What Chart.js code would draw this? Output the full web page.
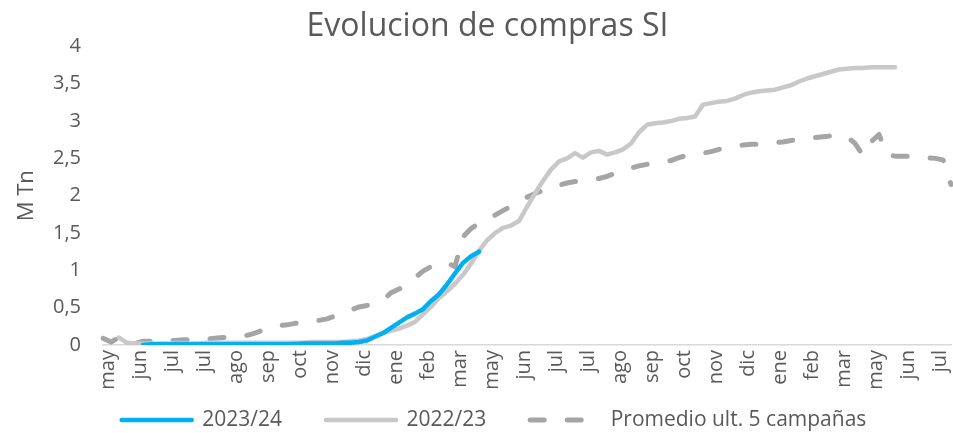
<!DOCTYPE html>
<html>
<head>
<meta charset="utf-8">
<script src="https://cdn.jsdelivr.net/npm/chart.js@4"></script>
<style>
html,body{margin:0;padding:0;background:#fff;overflow:hidden;}
#wrap{position:relative;width:953px;height:433px;}
</style>
</head>
<body>
<div id="wrap"><canvas id="c" width="953" height="433"></canvas></div>
<script>
// Tick labels shown on the x axis (one every 4 points)
const monthTicks = ['may','jun','jul','jul','ago','sep','oct','nov','dic','ene','feb','mar',
  'may','jun','jul','jul','ago','sep','oct','nov','dic','ene','feb','mar','may','jun','jul'];
const POINTS_PER_TICK = 4;
const N_POINTS = 107;

// Series values (M Tn)
const serie2324 = [null,null,null,null,null,0.00,0.01,0.01,0.01,0.01,
  0.01,0.01,0.01,0.01,0.01,0.01,0.01,0.01,0.01,0.01,
  0.01,0.01,0.01,0.01,0.015,0.02,0.02,0.02,0.02,0.02,
  0.03,0.03,0.04,0.06,0.11,0.16,0.23,0.30,0.37,0.42,
  0.48,0.59,0.68,0.81,0.96,1.10,1.19,1.25];

const serie2223 = [null,null,0.10,0.03,0.02,0.02,0.02,0.02,0.02,0.02,
  0.02,0.02,0.02,0.03,0.03,0.03,0.03,0.03,0.03,0.03,
  0.03,0.03,0.03,0.03,0.03,0.03,0.04,0.04,0.04,0.04,
  0.04,0.05,0.06,0.08,0.12,0.16,0.19,0.22,0.26,0.31,
  0.41,0.51,0.63,0.72,0.82,0.94,1.09,1.26,1.40,1.50,
  1.57,1.60,1.66,1.85,2.03,2.20,2.35,2.46,2.50,2.57,
  2.51,2.58,2.60,2.55,2.58,2.62,2.70,2.85,2.95,2.97,
  2.98,3.00,3.03,3.04,3.06,3.22,3.24,3.26,3.27,3.30,
  3.35,3.38,3.40,3.41,3.42,3.45,3.48,3.53,3.57,3.60,
  3.63,3.66,3.69,3.70,3.71,3.71,3.72,3.72,3.72,3.72];

const promedio5 = [0.09,0.04,0.10,0.03,0.02,0.05,0.05,0.05,0.06,0.06,
  0.07,0.07,0.08,0.08,0.09,0.10,0.11,0.11,0.13,0.16,
  0.20,0.24,0.26,0.27,0.29,0.30,0.31,0.33,0.35,0.39,
  0.43,0.47,0.51,0.53,0.56,0.60,0.70,0.75,0.80,0.90,
  0.99,1.05,1.10,1.10,1.05,1.45,1.56,1.63,1.69,1.74,
  1.80,1.86,1.92,1.98,2.03,2.07,2.11,2.14,2.17,2.19,
  2.21,2.22,2.23,2.26,2.30,2.34,2.37,2.40,2.42,2.43,
  2.45,2.47,2.51,2.54,2.56,2.57,2.59,2.62,2.64,2.66,
  2.68,2.69,2.69,2.70,2.71,2.72,2.74,2.75,2.77,2.78,
  2.79,2.80,2.80,2.79,2.70,2.54,2.72,2.82,2.55,2.53,
  2.53,2.53,2.52,2.51,2.50,2.48,2.15];

const yTicks = [0,0.5,1,1.5,2,2.5,3,3.5,4];

const categories = [];
for (let i = 0; i < N_POINTS; i++) categories.push(monthTicks[Math.min(monthTicks.length-1, Math.floor(i / POINTS_PER_TICK))]);

const FONT = "'Open Sans', 'DejaVu Sans', sans-serif";
const TXT = '#595959';
const LEGEND_H = 41;
const LEGEND_PAD = 44;
const LEGEND_CENTER_Y = 420;

const layoutFix = {
  id: 'layoutFix',
  beforeLayout(chart) {
    const lg = chart.legend;
    if (lg && !lg.__fixed) {
      const orig = lg.fit;
      lg.fit = function () { orig.call(this); this.height = LEGEND_H; };
      lg.__fixed = true;
    }
  },
  afterLayout(chart) {
    const lg = chart.legend;
    if (lg) {
      lg.left = 35; lg.right = 953;
      lg.top = LEGEND_CENTER_Y - LEGEND_PAD - 10.5;
      lg.bottom = 433;
      lg.width = lg.right - lg.left; lg.height = lg.bottom - lg.top;
    }
    const tb = chart.titleBlock;
    if (tb) { tb.left = 22; tb.right = 953; tb.width = tb.right - tb.left; }
  }
};

new Chart(document.getElementById('c'), {
  type: 'line',
  data: {
    labels: categories,
    datasets: [
      { label: '2023/24', data: serie2324, borderColor: '#00B0F0', backgroundColor: '#00B0F0',
        borderWidth: 4.5, pointRadius: 0, tension: 0, borderJoinStyle: 'round', borderCapStyle: 'round' },
      { label: '2022/23', data: serie2223, borderColor: '#C8C8C8', backgroundColor: '#C8C8C8',
        borderWidth: 4.5, pointRadius: 0, tension: 0, borderJoinStyle: 'round', borderCapStyle: 'round' },
      { label: 'Promedio ult. 5 campañas', data: promedio5, borderColor: '#A5A5A5', backgroundColor: '#A5A5A5',
        borderWidth: 5, borderDash: [14, 23], borderCapStyle: 'round', borderJoinStyle: 'round', pointRadius: 0, tension: 0 }
    ]
  },
  options: {
    responsive: false,
    animation: false,
    layout: { padding: { left: 0, right: 2, top: 0, bottom: 0 } },
    plugins: {
      title: { display: true, text: 'Evolucion de compras SI', color: TXT,
        font: { family: FONT, size: 32, weight: 'normal' }, padding: { top: 8, bottom: 0 } },
      legend: { position: 'bottom',
        labels: { usePointStyle: true, pointStyle: 'line', pointStyleWidth: 70, boxHeight: 20,
          color: TXT, font: { family: FONT, size: 21 }, padding: LEGEND_PAD,
          generateLabels: (chart) => {
            const items = Chart.defaults.plugins.legend.labels.generateLabels(chart);
            items.forEach(it => {
              const ds = chart.data.datasets[it.datasetIndex];
              it.lineDash = ds.borderDash || [];
              it.lineCap = 'round';
              it.lineWidth = ds.borderWidth;
              it.strokeStyle = ds.borderColor;
              it.fontColor = TXT;
            });
            return items;
          } } },
      tooltip: { enabled: false }
    },
    scales: {
      x: {
        type: 'category',
        grid: { display: false, drawTicks: false },
        border: { display: true, color: '#D9D9D9', width: 1.5 },
        ticks: {
          autoSkip: false, minRotation: 90, maxRotation: 90, padding: 5, labelOffset: 5,
          color: TXT, font: { family: FONT, size: 20 },
          callback: function (v, i) { return i % POINTS_PER_TICK === 0 ? this.getLabelForValue(v) : ''; }
        },
        afterFit: (s) => { s.height = 88 - LEGEND_H; s.paddingLeft = 0; s.paddingRight = 0; }
      },
      y: {
        min: 0, max: 4,
        afterBuildTicks: (s) => { s.ticks = yTicks.map(v => ({ value: v })); },
        grid: { display: false, drawTicks: false },
        border: { display: false },
        ticks: { color: TXT, font: { family: FONT, size: 20 }, padding: 22,
          callback: (v) => String(v).replace('.', ',') },
        title: { display: true, text: 'M Tn', color: TXT, font: { family: FONT, size: 22 }, padding: { top: 14, bottom: 0 } },
        afterFit: (s) => { s.width = 103; }
      }
    }
  },
  plugins: [layoutFix]
});
</script>
</body>
</html>
